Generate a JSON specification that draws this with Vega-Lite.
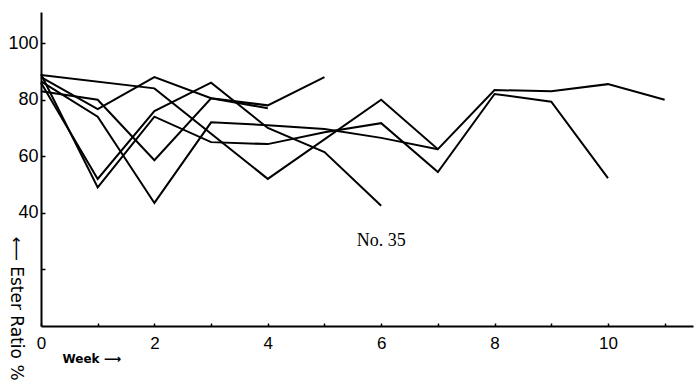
{
  "$schema": "https://vega.github.io/schema/vega-lite/v6.json",
  "width": 652,
  "height": 314,
  "autosize": {"type": "none"},
  "padding": {"left": 41, "top": 12, "right": 1, "bottom": 61},
  "background": "white",
  "config": {
    "view": {"stroke": null},
    "axis": {"grid": false, "domainColor": "black", "domainWidth": 2, "tickColor": "black", "tickWidth": 1.5, "labelColor": "black", "titleColor": "black", "labelFont": "Liberation Sans"}
  },
  "layer": [
    {
      "data": {"values": [
        {"series": "A", "week": 0, "value": 88.7},
        {"series": "A", "week": 2, "value": 84},
        {"series": "A", "week": 4, "value": 52},
        {"series": "A", "week": 6, "value": 80},
        {"series": "A", "week": 7, "value": 62.5},
        {"series": "A", "week": 8, "value": 83.4},
        {"series": "A", "week": 9, "value": 83},
        {"series": "A", "week": 10, "value": 85.5},
        {"series": "A", "week": 11, "value": 80},
        {"series": "B", "week": 0, "value": 88},
        {"series": "B", "week": 1, "value": 76.7},
        {"series": "B", "week": 2, "value": 88},
        {"series": "B", "week": 3, "value": 80.5},
        {"series": "B", "week": 4, "value": 78},
        {"series": "B", "week": 5, "value": 88},
        {"series": "C", "week": 0, "value": 83},
        {"series": "C", "week": 1, "value": 80},
        {"series": "C", "week": 2, "value": 58.6},
        {"series": "C", "week": 3, "value": 80.5},
        {"series": "C", "week": 4, "value": 77},
        {"series": "D", "week": 0, "value": 86.5},
        {"series": "D", "week": 1, "value": 74},
        {"series": "D", "week": 2, "value": 43.5},
        {"series": "D", "week": 3, "value": 72},
        {"series": "D", "week": 4, "value": 71},
        {"series": "D", "week": 5, "value": 69.6},
        {"series": "D", "week": 6, "value": 66.5},
        {"series": "D", "week": 7, "value": 62.5},
        {"series": "E", "week": 0, "value": 86},
        {"series": "E", "week": 1, "value": 52},
        {"series": "E", "week": 2, "value": 76},
        {"series": "E", "week": 3, "value": 86},
        {"series": "E", "week": 4, "value": 70},
        {"series": "E", "week": 5, "value": 61.5},
        {"series": "E", "week": 6, "value": 42.5},
        {"series": "F", "week": 0, "value": 89},
        {"series": "F", "week": 1, "value": 49},
        {"series": "F", "week": 2, "value": 74},
        {"series": "F", "week": 3, "value": 65},
        {"series": "F", "week": 4, "value": 64.3},
        {"series": "F", "week": 5, "value": 68.5},
        {"series": "F", "week": 6, "value": 71.7},
        {"series": "F", "week": 7, "value": 54.4},
        {"series": "F", "week": 8, "value": 82},
        {"series": "F", "week": 9, "value": 79.3},
        {"series": "F", "week": 10, "value": 52.3}
      ]},
      "mark": {"type": "line", "color": "black", "strokeWidth": 2},
      "encoding": {
        "x": {
          "field": "week", "type": "quantitative",
          "scale": {"domain": [0, 11.5], "nice": false, "zero": false},
          "axis": {
            "values": [0, 1, 2, 3, 4, 5, 6, 7, 8, 9, 10, 11],
            "format": "d",
            "labelExpr": "datum.value % 2 == 0 ? datum.label : ''",
            "tickSize": -3,
            "labelPadding": 12,
            "labelFontSize": 17,
            "labelFlush": false,
            "title": "Week ⟶",
            "titleFont": "DejaVu Sans",
            "titleFontSize": 12,
            "titleFontWeight": "bold",
            "titleAnchor": "start",
            "titleAlign": "left",
            "titleBaseline": "middle",
            "titleX": 21,
            "titleY": 32
          }
        },
        "y": {
          "field": "value", "type": "quantitative",
          "scale": {"domain": [0, 111], "nice": false},
          "axis": {
            "values": [20, 40, 60, 80, 100],
            "format": "d",
            "labelExpr": "datum.value == 20 ? '' : datum.label",
            "tickSize": -4,
            "labelPadding": 7,
            "labelFontSize": 18,
            "title": "⟵ Ester Ratio %",
            "titleFont": "DejaVu Sans",
            "titleFontSize": 17,
            "titleFontWeight": "normal",
            "titleAngle": 90,
            "titleAlign": "center",
            "titleBaseline": "middle",
            "titleX": -26,
            "titleY": 296
          }
        },
        "detail": {"field": "series"}
      }
    },
    {
      "data": {"values": [{"week": 6, "value": 30, "label": "No. 35"}]},
      "mark": {"type": "text", "font": "Liberation Serif", "fontSize": 18, "color": "black"},
      "encoding": {
        "x": {"field": "week", "type": "quantitative"},
        "y": {"field": "value", "type": "quantitative"},
        "text": {"field": "label"}
      }
    }
  ]
}
